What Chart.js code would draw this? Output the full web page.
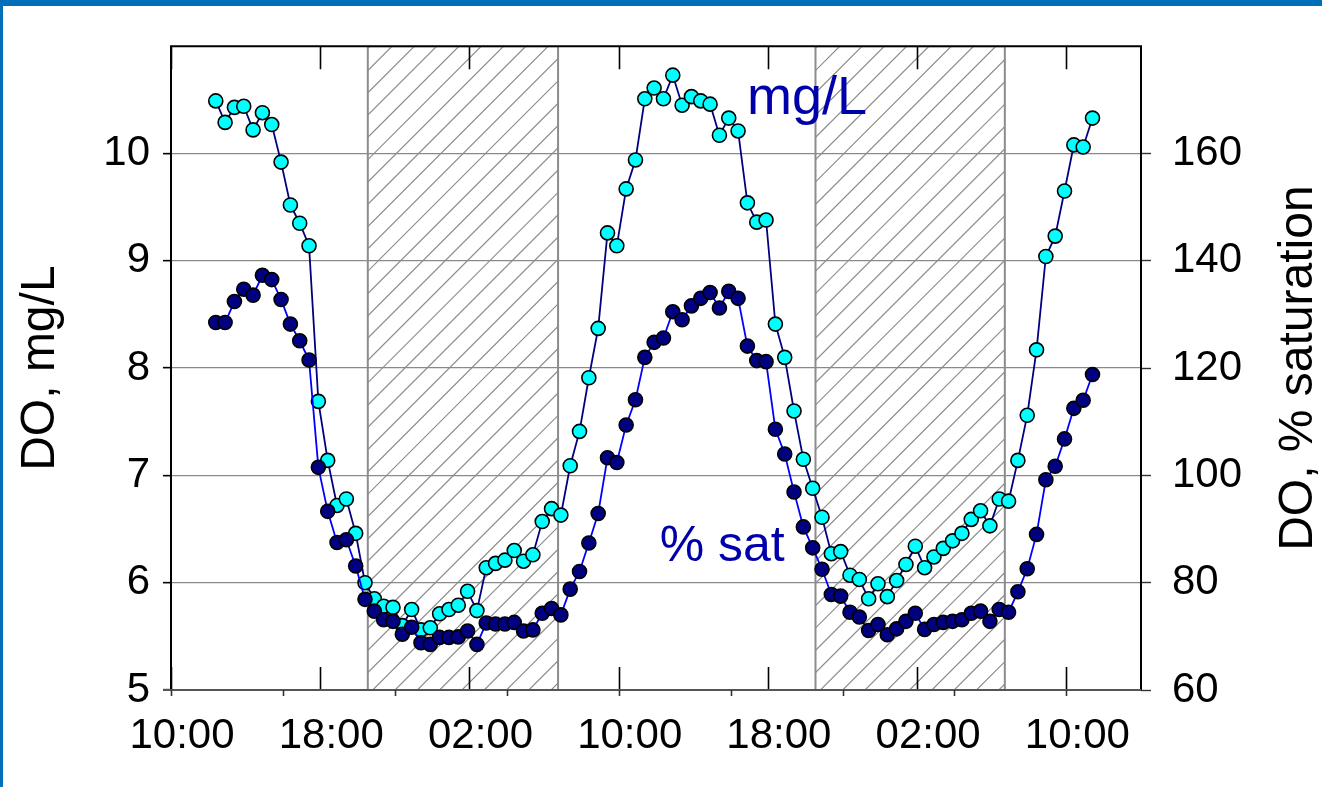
<!DOCTYPE html>
<html><head><meta charset="utf-8">
<script src="https://cdn.jsdelivr.net/npm/chart.js@4.4.1/dist/chart.umd.min.js"></script>
<style>
html,body{margin:0;padding:0;background:#fff;}
#wrap{position:relative;width:1322px;height:787px;overflow:hidden;background:#fff;}
#frameTop{position:absolute;left:0;top:0;width:1322px;height:6px;background:#006EB8;}
#frameLeft{position:absolute;left:0;top:0;width:3px;height:787px;background:#006EB8;}
canvas{position:absolute;left:0;top:0;}
</style></head>
<body><div id="wrap"><canvas id="c" width="1322" height="787"></canvas><div id="frameTop"></div><div id="frameLeft"></div></div>
<script>
// sampling times, hours after 10:00 on day 1
const sampleHours = [
 2.4,2.9,3.4,3.9,4.4,4.9,5.4,5.9,6.4,6.9,
 7.4,7.9,8.4,8.9,9.4,9.9,10.4,10.9,11.4,11.9,
 12.4,12.9,13.4,13.9,14.4,14.9,15.4,15.9,16.4,16.9,
 17.4,17.9,18.4,18.9,19.4,19.9,20.4,20.9,21.4,21.9,
 22.4,22.9,23.4,23.9,24.4,24.9,25.4,25.9,26.4,26.9,
 27.4,27.9,28.4,28.9,29.4,29.9,30.4,30.9,31.4,31.9,
 32.4,32.9,33.4,33.9,34.4,34.9,35.4,35.9,36.4,36.9,
 37.4,37.9,38.4,38.9,39.4,39.9,40.4,40.9,41.4,41.9,
 42.4,42.9,43.4,43.9,44.4,44.9,45.4,45.9,46.4,46.9,
 47.4,47.9,48.4,48.9,49.4];
// DO, mg/L
const doMgL = [
 10.49,10.29,10.43,10.44,10.22,10.38,10.27,9.92,9.52,9.35,
 9.14,7.69,7.14,6.72,6.78,6.46,6.00,5.85,5.78,5.77,
 5.60,5.75,5.56,5.58,5.71,5.75,5.79,5.92,5.74,6.14,
 6.18,6.21,6.30,6.20,6.26,6.57,6.69,6.63,7.09,7.41,
 7.91,8.37,9.26,9.14,9.67,9.94,10.51,10.61,10.51,10.73,
 10.45,10.53,10.49,10.46,10.17,10.33,10.21,9.54,9.36,9.38,
 8.41,8.10,7.60,7.15,6.88,6.61,6.27,6.29,6.07,6.03,
 5.85,5.99,5.87,6.02,6.17,6.34,6.14,6.24,6.32,6.39,
 6.46,6.59,6.67,6.53,6.78,6.76,7.14,7.56,8.17,9.04,
 9.23,9.65,10.08,10.06,10.33];
// DO, % saturation
const doSat = [
 128.5,128.5,132.4,134.7,133.6,137.3,136.5,132.8,128.2,125.1,
 121.5,101.5,93.3,87.5,88.0,83.1,76.9,74.7,73.1,72.8,
 70.4,71.7,68.8,68.5,69.8,69.8,69.9,71.0,68.5,72.5,
 72.3,72.3,72.6,71.0,71.2,74.3,75.2,74.0,78.8,82.1,
 87.4,92.9,103.3,102.4,109.4,114.1,122.0,124.8,125.6,130.5,
 129.0,131.6,133.0,134.1,131.2,134.3,133.0,124.1,121.4,121.2,
 108.6,104.0,96.9,90.4,86.5,82.5,77.8,77.5,74.5,73.6,
 71.1,72.2,70.3,71.4,72.8,74.3,71.3,72.2,72.6,72.8,
 73.1,74.3,74.7,72.8,75.0,74.5,78.3,82.6,89.0,99.2,
 101.7,106.8,112.5,114.0,118.8];
// night periods (hours after 10:00 day 1)
const nightStart = [10.55, 34.55];
const nightEnd = [20.75, 44.7];
// axis ticks
const majorTickHours = [0,8,16,24,32,40,48];
const majorTickLabels = ['10:00','18:00','02:00','10:00','18:00','02:00','10:00'];
const minorTickHours = [0,6,12,18,24,30,36,42,48];
const leftTickValues = [5,6,7,8,9,10];
const rightTickValues = [60,80,100,120,140,160];
const seriesLabels = ['mg/L', '% sat'];
const axisTitles = ['DO, mg/L', 'DO, % saturation'];
const labelPositions = {mg:{x:34.1,y:10.37}, sat:{x:29.55,y:6.2}};

const FONT = "'Liberation Sans', Arial, sans-serif";

const decor = {
  id:'decor',
  beforeDatasetsDraw(chart){
    const {ctx, chartArea:a, scales:{x}} = chart;
    ctx.save();
    ctx.beginPath(); ctx.rect(a.left,a.top,a.right-a.left,a.bottom-a.top); ctx.clip();
    for(let k=0;k<nightStart.length;k++){
      const x0 = x.getPixelForValue(nightStart[k]);
      const x1 = x.getPixelForValue(nightEnd[k]);
      ctx.save();
      ctx.beginPath(); ctx.rect(x0,a.top,x1-x0,a.bottom-a.top); ctx.clip();
      ctx.strokeStyle='#8c8c8c'; ctx.lineWidth=1.2;
      const h = a.bottom-a.top;
      ctx.beginPath();
      for(let s=x0-h; s<x1+h; s+=22.3){
        ctx.moveTo(s, a.bottom+2); ctx.lineTo(s+h+4, a.top-2);
      }
      ctx.stroke();
      ctx.restore();
      ctx.strokeStyle='#8c8c8c'; ctx.lineWidth=2;
      ctx.strokeRect(x0,a.top,x1-x0,a.bottom-a.top);
    }
    ctx.restore();
    // tall inward ticks (bottom and top)
    ctx.save();
    ctx.strokeStyle='#000'; ctx.lineWidth=1.6;
    ctx.beginPath();
    majorTickHours.forEach(v=>{
      const px = Math.round(x.getPixelForValue(v))+0.5;
      ctx.moveTo(px,a.bottom); ctx.lineTo(px,a.bottom-23);
      ctx.moveTo(px,a.top); ctx.lineTo(px,a.top+23);
    });
    ctx.stroke();
    ctx.restore();
  },
  afterDatasetsDraw(chart){
    const {ctx, chartArea:a, scales:{x,y}} = chart;
    ctx.save();
    // frame
    ctx.strokeStyle='#000'; ctx.lineWidth=2;
    ctx.beginPath();
    ctx.moveTo(a.left,a.bottom+1); ctx.lineTo(a.left,a.top); ctx.lineTo(a.right,a.top); ctx.lineTo(a.right,a.bottom);
    ctx.stroke();
    ctx.strokeStyle='#555'; ctx.lineWidth=2.2;
    ctx.beginPath(); ctx.moveTo(a.left-8,a.bottom); ctx.lineTo(a.right,a.bottom); ctx.stroke();
    // small outward ticks
    ctx.strokeStyle='#333'; ctx.lineWidth=1.6;
    ctx.beginPath();
    minorTickHours.forEach(v=>{
      const px = Math.round(x.getPixelForValue(v))+0.5;
      ctx.moveTo(px,a.bottom); ctx.lineTo(px,a.bottom+6);
    });
    ctx.stroke();
    // axis titles
    ctx.fillStyle='#000'; ctx.font='48px '+FONT;
    ctx.textAlign='center'; ctx.textBaseline='middle';
    ctx.save(); ctx.translate(41,(a.top+a.bottom)/2); ctx.rotate(-Math.PI/2); ctx.fillText(axisTitles[0],0,0); ctx.restore();
    ctx.save(); ctx.translate(1299,(a.top+a.bottom)/2); ctx.rotate(-Math.PI/2); ctx.fillText(axisTitles[1],0,0); ctx.restore();
    // series labels
    ctx.fillStyle='#0000AA'; ctx.textAlign='center'; ctx.textBaseline='alphabetic';
    ctx.font='54px '+FONT;
    ctx.fillText(seriesLabels[0], x.getPixelForValue(labelPositions.mg.x), y.getPixelForValue(labelPositions.mg.y));
    ctx.font='50px '+FONT;
    ctx.fillText(seriesLabels[1], x.getPixelForValue(labelPositions.sat.x), y.getPixelForValue(labelPositions.sat.y));
    ctx.restore();
  }
};

new Chart(document.getElementById('c').getContext('2d'), {
  type:'line',
  data:{datasets:[
    {label:seriesLabels[1], yAxisID:'y1', data:sampleHours.map((t,i)=>({x:t,y:doSat[i]})),
     borderColor:'#0000FF', borderWidth:1.8, pointBackgroundColor:'#000080', pointBorderColor:'#000',
     pointBorderWidth:1.6, pointRadius:7, tension:0, fill:false},
    {label:seriesLabels[0], yAxisID:'y', data:sampleHours.map((t,i)=>({x:t,y:doMgL[i]})),
     borderColor:'#000080', borderWidth:1.8, pointBackgroundColor:'#00FFFF', pointBorderColor:'#000',
     pointBorderWidth:1.6, pointRadius:7, tension:0, fill:false}
  ]},
  options:{
    responsive:false, animation:false, devicePixelRatio:1,
    layout:{padding:{top:43,left:0,right:0,bottom:0}},
    plugins:{legend:{display:false}, tooltip:{enabled:false}},
    scales:{
      x:{type:'linear', min:0, max:52,
         afterBuildTicks:s=>{s.ticks = majorTickHours.map(v=>({value:v}));},
         ticks:{callback:(v,i)=>majorTickLabels[i], font:{family:FONT,size:42}, color:'#000', padding:21, labelOffset:11, maxRotation:0, autoSkip:false},
         grid:{display:false, drawTicks:false}, border:{display:false},
         afterFit:s=>{s.height=97;}},
      y:{type:'linear', position:'left', min:5, max:11,
         afterBuildTicks:s=>{s.ticks = leftTickValues.map(v=>({value:v}));},
         ticks:{font:{family:FONT,size:42}, color:'#000', padding:13},
         grid:{color:'#8a8a8a', lineWidth:1.3, drawTicks:true, tickLength:8, tickColor:'#000', tickWidth:1.6},
         border:{display:false},
         afterFit:s=>{s.width=171;}},
      y1:{type:'linear', position:'right', min:60, max:180,
         afterBuildTicks:s=>{s.ticks = rightTickValues.map(v=>({value:v}));},
         ticks:{font:{family:FONT,size:42}, color:'#000', padding:21},
         grid:{drawOnChartArea:false, drawTicks:true, tickLength:10, tickColor:'#333', tickWidth:1.4},
         border:{display:false},
         afterFit:s=>{s.width=181;}}
    }
  },
  plugins:[decor]
});
</script>
</body></html>
